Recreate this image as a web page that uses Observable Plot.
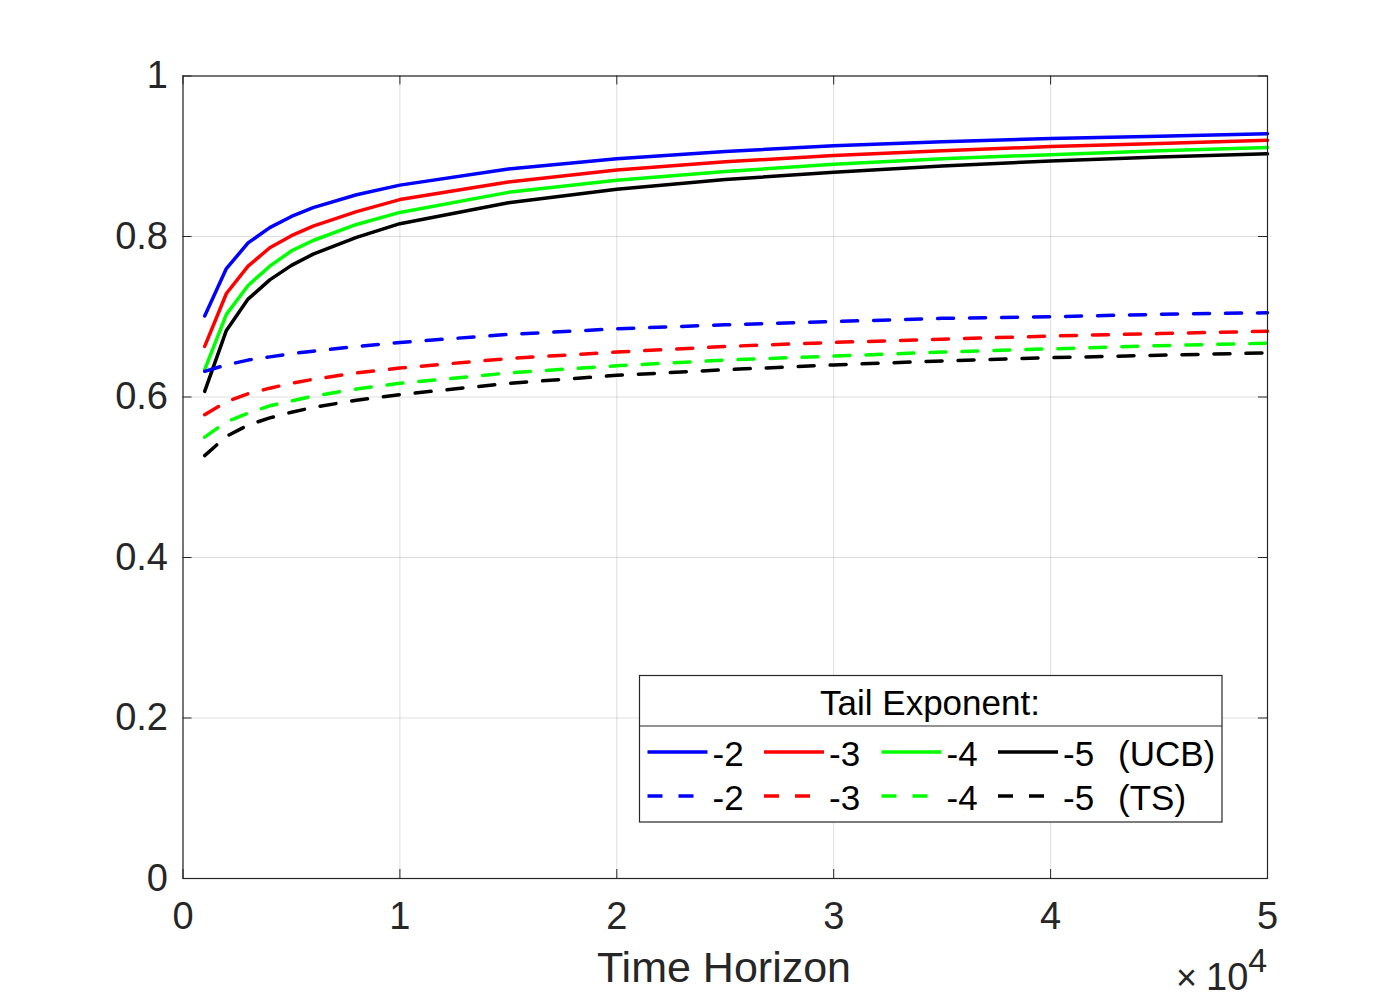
<!DOCTYPE html>
<html>
<head>
<meta charset="utf-8">
<script src="https://cdn.jsdelivr.net/npm/d3@7"></script>
<script src="https://cdn.jsdelivr.net/npm/@observablehq/plot@0.6"></script>
<style>
  html, body { margin: 0; padding: 0; background: #fff; overflow: hidden; }
  #chart { position: relative; width: 1400px; height: 1000px; }
</style>
</head>
<body>
<div id="chart"></div>
<script>
// ---- data ----
const horizon = [1000, 2000, 3000, 4000, 5000, 6000, 8000, 10000, 15000, 20000, 25000, 30000, 35000, 40000, 45000, 50000];

const ucbM2 = [0.701, 0.760, 0.792, 0.811, 0.825, 0.836, 0.852, 0.864, 0.884, 0.897, 0.906, 0.913, 0.918, 0.922, 0.925, 0.928];
const ucbM3 = [0.663, 0.729, 0.763, 0.786, 0.801, 0.813, 0.831, 0.846, 0.868, 0.883, 0.893, 0.901, 0.907, 0.912, 0.916, 0.920];
const ucbM4 = [0.634, 0.703, 0.739, 0.763, 0.782, 0.795, 0.815, 0.830, 0.855, 0.870, 0.881, 0.890, 0.897, 0.902, 0.907, 0.911];
const ucbM5 = [0.607, 0.683, 0.722, 0.746, 0.764, 0.778, 0.799, 0.816, 0.842, 0.859, 0.871, 0.880, 0.888, 0.894, 0.899, 0.903];

const tsM2 = [0.632, 0.640, 0.646, 0.650, 0.654, 0.657, 0.663, 0.668, 0.678, 0.685, 0.690, 0.694, 0.698, 0.700, 0.703, 0.705];
const tsM3 = [0.578, 0.594, 0.604, 0.611, 0.617, 0.622, 0.630, 0.636, 0.648, 0.656, 0.663, 0.668, 0.672, 0.676, 0.679, 0.682];
const tsM4 = [0.550, 0.569, 0.580, 0.589, 0.595, 0.601, 0.610, 0.617, 0.630, 0.639, 0.646, 0.651, 0.656, 0.660, 0.664, 0.667];
const tsM5 = [0.527, 0.551, 0.565, 0.574, 0.581, 0.587, 0.596, 0.603, 0.617, 0.627, 0.634, 0.640, 0.645, 0.649, 0.652, 0.655];

const exponentLabels = ["-2", "-3", "-4", "-5"];
const seriesColors = ["#0000ff", "#ff0000", "#00ff00", "#000000"];
const methodLabels = ["(UCB)", "(TS)"];
const legendTitle = "Tail Exponent:";
const xLabel = "Time Horizon";

const xTicks = [0, 10000, 20000, 30000, 40000, 50000];
const yTicks = [0, 0.2, 0.4, 0.6, 0.8, 1];

// ---- build series ----
const ucbSeries = [ucbM2, ucbM3, ucbM4, ucbM5];
const tsSeries = [tsM2, tsM3, tsM4, tsM5];
const toRows = (vals) => horizon.map((x, i) => ({x, y: vals[i]}));

const FONT = "'Liberation Sans', Arial, Helvetica, sans-serif";
const TXT = "#262626";
const W = 1400, H = 1000;
const mL = 182.5, mR = 133, mT = 75.5, mB = 122;
const plotW = W - mL - mR, plotH = H - mT - mB;
const tickLen = 9;

const marks = [
  Plot.gridX(xTicks, {stroke: "#000", strokeOpacity: 0.13, strokeWidth: 1}),
  Plot.gridY(yTicks, {stroke: "#000", strokeOpacity: 0.13, strokeWidth: 1}),
];
ucbSeries.forEach((vals, i) => {
  marks.push(Plot.line(toRows(vals), {x: "x", y: "y", stroke: seriesColors[i], strokeWidth: 3.5}));
});
tsSeries.forEach((vals, i) => {
  marks.push(Plot.line(toRows(vals), {x: "x", y: "y", stroke: seriesColors[i], strokeWidth: 3.5, strokeDasharray: "16,16"}));
});
// inward ticks on all four sides
marks.push(
  Plot.tickX(xTicks, {x: d => d, stroke: TXT, strokeWidth: 1, insetTop: plotH - tickLen}),
  Plot.tickX(xTicks, {x: d => d, stroke: TXT, strokeWidth: 1, insetBottom: plotH - tickLen}),
  Plot.tickY(yTicks, {y: d => d, stroke: TXT, strokeWidth: 1, insetRight: plotW - tickLen}),
  Plot.tickY(yTicks, {y: d => d, stroke: TXT, strokeWidth: 1, insetLeft: plotW - tickLen}),
  Plot.frame({stroke: TXT, strokeWidth: 1.2}),
  Plot.axisX(xTicks, {
    tickSize: 0, tickPadding: 24, fontSize: 38, fill: TXT,
    tickFormat: d => String(d / 10000), label: null
  }),
  Plot.axisY(yTicks, {
    tickSize: 0, tickPadding: 15, fontSize: 38, fill: TXT,
    tickFormat: d => String(+d.toFixed(1)), label: null
  })
);

const chart = Plot.plot({
  width: W, height: H,
  marginLeft: mL, marginRight: mR, marginTop: mT, marginBottom: mB,
  style: {fontFamily: FONT, color: TXT, background: "#fff", overflow: "visible"},
  x: {domain: [0, 50000]},
  y: {domain: [0, 1]},
  marks
});
document.getElementById("chart").appendChild(chart);

// ---- extra annotations ----
const svg = d3.select(chart);

svg.append("text")
  .attr("x", 724).attr("y", 982)
  .attr("text-anchor", "middle")
  .attr("font-family", FONT).attr("font-size", 43).attr("fill", TXT)
  .text(xLabel);

const mult = svg.append("text")
  .attr("x", 1176).attr("y", 990)
  .attr("text-anchor", "start")
  .attr("font-family", FONT).attr("fill", TXT);
mult.append("tspan").attr("font-size", 36).text("\u00d7");
mult.append("tspan").attr("font-size", 38).attr("dx", 9).text("10");
mult.append("tspan").attr("font-size", 34).attr("dy", -18).text("4");

// ---- legend ----
const LFS = 35;
const lg = svg.append("g").attr("font-family", FONT).attr("fill", "#000").attr("text-anchor", "start");
const bx0 = 639.5, by0 = 675.5, bx1 = 1222, by1 = 822, divY = 726;
lg.append("rect").attr("x", bx0).attr("y", by0).attr("width", bx1 - bx0).attr("height", by1 - by0)
  .attr("fill", "#fff").attr("stroke", TXT).attr("stroke-width", 1.2);
lg.append("line").attr("x1", bx0).attr("x2", bx1).attr("y1", divY).attr("y2", divY)
  .attr("stroke", TXT).attr("stroke-width", 1.2);
lg.append("text").attr("x", 930).attr("y", 715).attr("text-anchor", "middle")
  .attr("font-size", LFS).text(legendTitle);

const entryX = [647.5, 764, 881.5, 998];
const lineLen = 60;
const rowLineY = [752, 796];
const rowTextY = [766, 810];
[0, 1].forEach(r => {
  exponentLabels.forEach((lab, i) => {
    lg.append("line")
      .attr("x1", entryX[i]).attr("x2", entryX[i] + lineLen)
      .attr("y1", rowLineY[r]).attr("y2", rowLineY[r])
      .attr("stroke", seriesColors[i]).attr("stroke-width", 3.5)
      .attr("stroke-dasharray", r === 1 ? "15,16" : null);
    lg.append("text").attr("x", entryX[i] + lineLen + 5).attr("y", rowTextY[r])
      .attr("font-size", LFS).text(lab);
  });
  lg.append("text").attr("x", 1118).attr("y", rowTextY[r]).attr("font-size", LFS).text(methodLabels[r]);
});
</script>
</body>
</html>
